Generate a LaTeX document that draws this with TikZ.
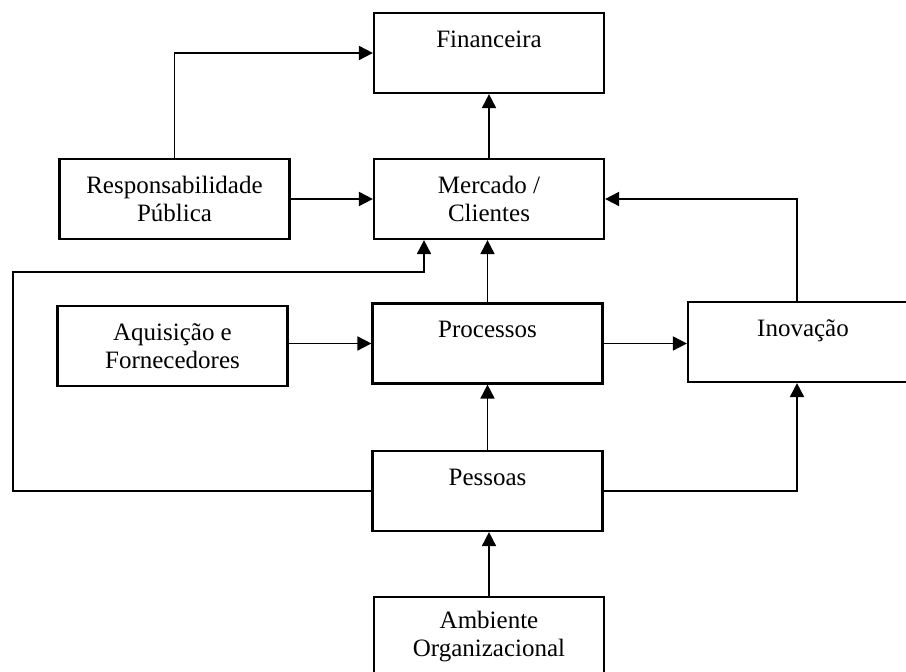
\documentclass[tikz,border=0pt]{standalone}
\usepackage{fontspec}
\setmainfont{Liberation Serif}
\usetikzlibrary{arrows.meta}
\begin{document}
\begin{tikzpicture}[x=0.5pt,y=-0.5pt,
  box/.style={draw,line width=1.1pt,minimum width=115pt,minimum height=40pt,
    inner sep=0pt,align=center,font=\fontsize{12.5}{14}\selectfont},
  arr/.style={line width=0.9pt,-{Triangle[length=7pt,width=7pt]}}]
\useasboundingbox (0,0) rectangle (906,672);
\clip (0,0) rectangle (906,672);

% boxes
\node[box] (fin)  at (489,53)    {Financeira\\\phantom{X}};
\node[box] (merc) at (489,199)   {Mercado /\\Clientes};
\node[box] (resp) at (174.5,199) {Responsabilidade\\Pública};
\node[box] (aqu)  at (172.5,346) {Aquisição e\\Fornecedores};
\node[box] (proc) at (487.5,343.5) {Processos\\\phantom{X}};
\node[box] (inov) at (803,342)   {Inovação\\\phantom{X}};
\node[box] (pess) at (487.5,491) {Pessoas\\\phantom{X}};
\node[box] (amb)  at (489,637)   {Ambiente\\Organizacional};

% routing points
\coordinate (col) at (797,0);
\coordinate (lft) at (13,272);
\coordinate (mid) at (424,272);

% connectors
\draw[arr] (resp.north) |- (fin.west);
\draw[arr] (resp.east) -- (merc.west);
\draw[arr] (merc.north) -- (fin.south);
\draw[arr] (col |- inov.north) |- (merc.east);
\draw[arr] (proc.north) -- (proc.north |- merc.south);
\draw[arr] (aqu.east |- proc.west) -- (proc.west);
\draw[arr] (proc.east) -- (proc.east -| inov.west);
\draw[arr] (pess.north) -- (proc.south);
\draw[arr] (amb.north) -- (amb.north |- pess.south);
\draw[arr] (pess.west) -| (lft) -- (mid) -- (mid |- merc.south);
\draw[arr] (pess.east) -| (col |- inov.south);
\end{tikzpicture}
\end{document}
